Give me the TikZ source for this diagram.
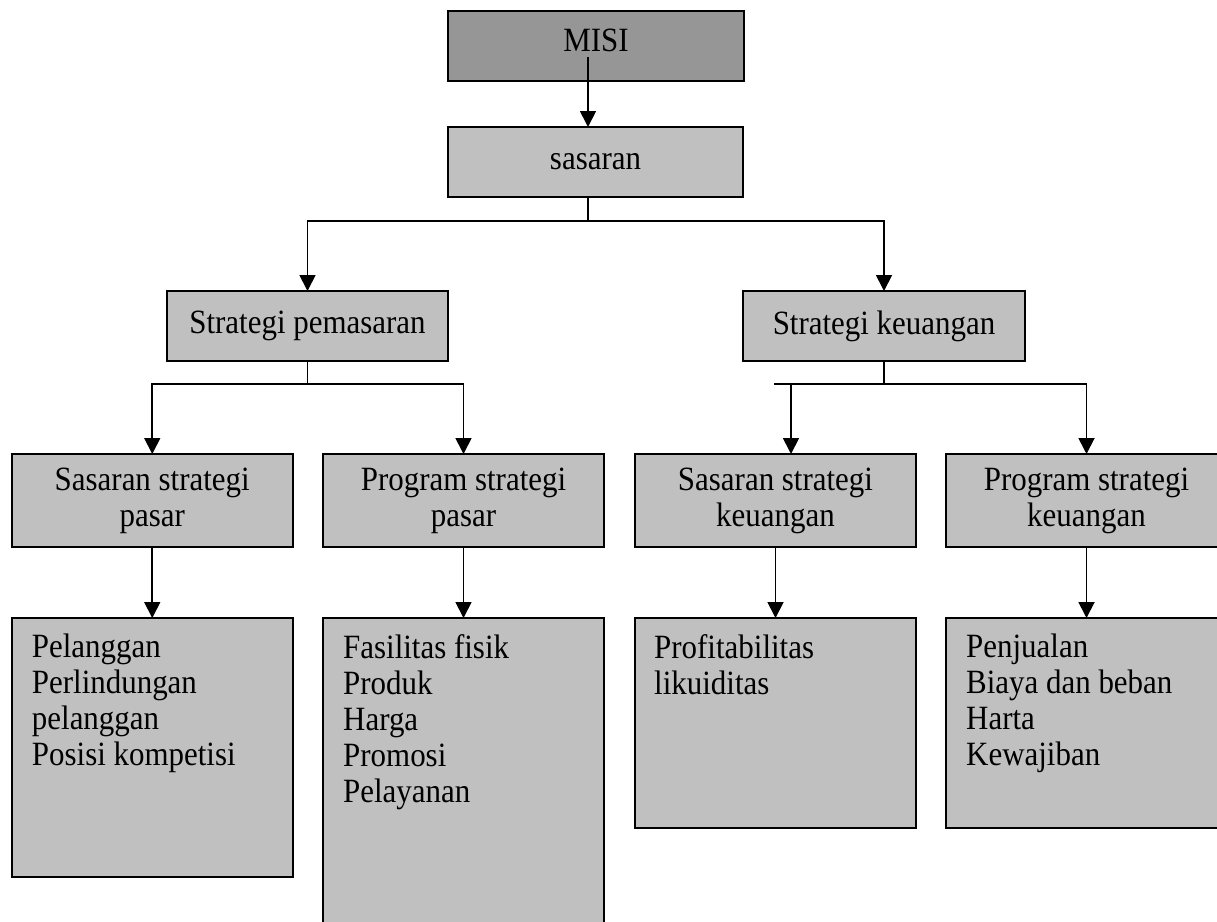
\documentclass[tikz,border=0pt]{standalone}
\usepackage{fontspec}
\setmainfont{Liberation Serif}[FakeStretch=0.91]
\usetikzlibrary{arrows.meta,calc}
\definecolor{darkbox}{HTML}{969696}
\definecolor{lightbox}{HTML}{C0C0C0}
\begin{document}
\begin{tikzpicture}[x=1pt,y=-1pt,
  font=\fontsize{34}{36}\selectfont,
  boxbase/.style={draw=black,line width=1.9pt,inner sep=0pt,outer sep=0pt,align=center},
  topbox/.style={boxbase,fill=darkbox,minimum width=296pt,minimum height=70pt},
  midbox/.style={boxbase,fill=lightbox,minimum height=70pt},
  rowbox/.style={boxbase,fill=lightbox,minimum width=281pt,minimum height=93pt},
  listbox/.style={boxbase,fill=lightbox,minimum width=281pt},
  listtext/.style={anchor=north west,inner sep=0pt,align=left},
  conn/.style={line width=1.8pt},
  arr/.style={conn,-{Triangle[width=16pt,length=16pt]}}]
\useasboundingbox (0,0) rectangle (1217,921);
\clip (0,0) rectangle (1217,921);
% boxes
\node[topbox,text depth=12.3pt] (misi) at (596,46) {MISI};
\node[midbox,minimum width=295pt] (sas) at (595.5,162) {sasaran};
\node[midbox,minimum width=281pt] (sp) at (307.5,326) {Strategi pemasaran};
\node[midbox,minimum width=282pt] (sk) at (884,326) {Strategi keuangan};
\node[rowbox] (a) at (152.25,500.5) {Sasaran strategi\\pasar};
\node[rowbox] (b) at (463.5,500.5) {Program strategi\\pasar};
\node[rowbox] (c) at (775.5,500.5) {Sasaran strategi\\keuangan};
\node[rowbox] (d) at (1086.5,500.5) {Program strategi\\keuangan};
\node[listbox,minimum height=259pt] (e) at (152.25,747.5) {};
\node[listbox,minimum height=330pt] (f) at (463.5,783) {};
\node[listbox,minimum height=210pt] (g) at (775.5,723) {};
\node[listbox,minimum height=210pt] (h) at (1086.5,723) {};
% list texts
\node[listtext] (et) at ($(e.north west)+(20,16)$) {Pelanggan\\Perlindungan\\pelanggan\\Posisi kompetisi};
\node[listtext] (ft) at ($(f.north west)+(20,16)$) {Fasilitas fisik\\Produk\\Harga\\Promosi\\Pelayanan};
\node[listtext] (gt) at ($(g.north west)+(19,16)$) {Profitabilitas\\likuiditas};
\node[listtext] (ht) at ($(h.north west)+(20,16)$) {Penjualan\\Biaya dan beban\\Harta\\Kewajiban};
% connectors
\coordinate (m0) at (588,57);
\draw[arr] (m0) -- (m0 |- sas.north);
\coordinate (j1) at (588,221);
\draw[conn] (j1 |- sas.south) -- (j1);
\draw[arr] (j1) -| (sp.north);
\draw[arr] (j1) -| (sk.north);
\coordinate (j2) at (307.5,384);
\draw[conn] (sp.south) -- (j2);
\draw[arr] (j2) -| (a.north);
\draw[arr] (j2) -| (b.north);
\coordinate (j3) at (884,384);
\coordinate (k3) at (774,384);
\coordinate (k4) at (791,384);
\draw[conn] (sk.south) -- (j3);
\draw[conn] (k3) -- (j3);
\draw[arr] (k4) -- (k4 |- c.north);
\draw[arr] (j3) -| (d.north);
\draw[arr] (a.south) -- (e.north);
\draw[arr] (b.south) -- (f.north);
\draw[arr] (c.south) -- (g.north);
\draw[arr] (d.south) -- (h.north);
\end{tikzpicture}
\end{document}
